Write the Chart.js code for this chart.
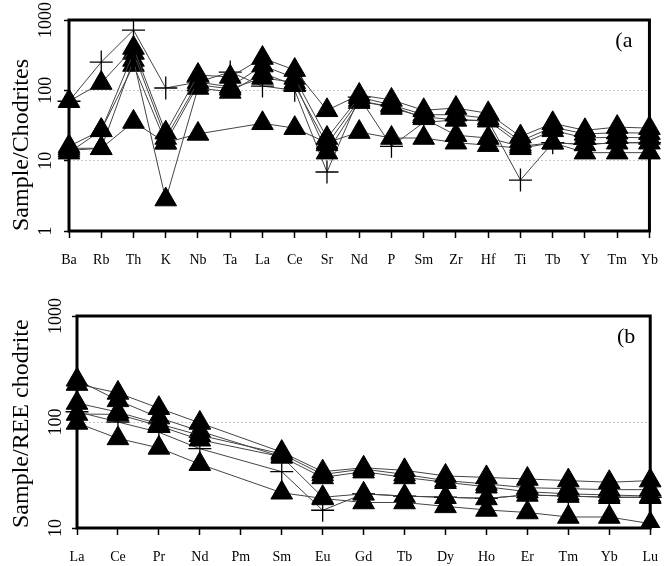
<!DOCTYPE html>
<html>
<head>
<meta charset="utf-8">
<script src="https://cdn.jsdelivr.net/npm/chart.js@4.4.1/dist/chart.umd.min.js"></script>
<style>
html, body { margin: 0; padding: 0; background: #fff; }
canvas { display: block; }
</style>
</head>
<body>
<canvas id="chartA" width="672" height="285"></canvas>
<canvas id="chartB" width="672" height="281"></canvas>
<script>
// (a) spider diagram, normalised to chondrite
var spiderLabels = ['Ba', 'Rb', 'Th', 'K', 'Nb', 'Ta', 'La', 'Ce', 'Sr', 'Nd', 'P', 'Sm', 'Zr', 'Hf', 'Ti', 'Tb', 'Y', 'Tm', 'Yb'];
var spider1 = [70, 127, 400, 25, 165, 155, 288, 194, 52, 86, 73, 52, 56, 47, 22, 34, 27, 30, 29];
var spider2 = [16, 27, 340, 21, 131, 112, 225, 150, 21, 80, 62, 45, 45, 40, 19, 30, 24, 25, 24.6];
var spider3 = [14, 15, 270, 2.8, 108, 95, 176, 118, 17, 73, 56, 42, 38, 37, 17, 27, 21, 21.6, 21];
var spider4 = [13, 27, 229, 18, 120, 105, 150, 130, 13, 68, 60, 40, 23, 21, 16, 18, 17, 18, 18];
var spider5 = [15, 15, 35.5, 18, 24, null, 34, 29, 18, 25.5, 21, 21, 18, 16.6, 15, 18, 13, 13, 13];
var spiderCross = [70, 252, 720, 108, 131, 182, 115, 100, 6.9, 80, 16, 35, 38, 37, 5.3, 18, 17, 18, 18];
var spiderTicks = [1, 10, 100, 1000];

// (b) REE pattern
var reeLabels = ['La', 'Ce', 'Pr', 'Nd', 'Pm', 'Sm', 'Eu', 'Gd', 'Tb', 'Dy', 'Ho', 'Er', 'Tm', 'Yb', 'Lu'];
var ree1 = [228, 188, 135, 98, null, 52, 34, 37, 35, 31, 30, 29, 28, 27, 28];
var ree2 = [151, 124, 96, 75, null, 50, 32, 36, 32, 28, 26, 24, 23.5, 23, 23];
var ree3 = [119, 118, 92, 68, null, 47, 30, 34, 30, 27, 24.5, 22, 21, 20.5, 20];
var ree4 = [98, 70, 57, 40, null, 21.5, 19, 17.4, 17.4, 16, 14.8, 14, 12.7, 12.7, 11];
var ree5 = [250, 160, 110, 82, null, 47, 19.5, 21, 20, 19.5, 19, 20.5, 20, 19.5, 19.5];
var reeCross = [125, 100, 80, 56, null, 34, 14.7, 21, 20, 19.5, 19, 20.5, 20, 19.5, 19.5];
var reeTicks = [10, 100, 1000];

var serif = "'Liberation Serif', 'Times New Roman', serif";

var framePlugin = {
    id: 'frame',
    afterDatasetsDraw: function(chart, args, opts) {
        var a = chart.chartArea;
        var ctx = chart.ctx;
        ctx.save();
        ctx.lineWidth = 3;
        ctx.strokeStyle = '#000';
        ctx.strokeRect(a.left, a.top, a.right - a.left, a.bottom - a.top);
        ctx.fillStyle = '#000';
        ctx.font = opts.size + 'px ' + serif;
        ctx.textAlign = 'right';
        ctx.textBaseline = 'top';
        ctx.fillText(opts.tag, a.right - opts.dx, a.top + opts.dy);
        ctx.restore();
    }
};

function triSet(data) {
    return {
        data: data,
        borderColor: '#444',
        borderWidth: 1,
        pointStyle: 'triangle',
        pointRadius: 12.5,
        pointBackgroundColor: '#000',
        pointBorderColor: '#000',
        pointBorderWidth: 1,
        spanGaps: true,
        tension: 0
    };
}

function crossSet(data) {
    return {
        data: data,
        borderColor: '#444',
        borderWidth: 1,
        pointStyle: 'cross',
        pointRadius: 11.5,
        pointBorderColor: '#000',
        pointBorderWidth: 1.3,
        spanGaps: true,
        tension: 0
    };
}

function makeChart(id, labels, sets, yMin, yMax, yTicks, yTitle, yWidth, yPad, xHeight, pad, tag) {
    return new Chart(document.getElementById(id), {
        type: 'line',
        data: { labels: labels, datasets: sets },
        options: {
            responsive: false,
            animation: false,
            events: [],
            layout: { padding: pad },
            plugins: {
                legend: { display: false },
                tooltip: { enabled: false },
                frame: tag
            },
            scales: {
                x: {
                    type: 'category',
                    offset: false,
                    grid: { drawOnChartArea: false, tickLength: 7, tickColor: '#000', tickWidth: 1.5 },
                    border: { display: false },
                    ticks: {
                        autoSkip: false,
                        maxRotation: 0,
                        padding: 14,
                        color: '#000',
                        font: { family: serif, size: 14 }
                    },
                    afterFit: function(s) { s.height = xHeight; }
                },
                y: {
                    type: 'logarithmic',
                    min: yMin,
                    max: yMax,
                    afterBuildTicks: function(s) {
                        s.ticks = yTicks.map(function(v) { return { value: v }; });
                    },
                    grid: {
                        tickLength: 5,
                        tickColor: '#000',
                        tickWidth: 1.5,
                        color: function(c) {
                            if (c.tick && c.tick.value > yMin && c.tick.value < yMax) return '#c8c8c8';
                            return 'rgba(0,0,0,0)';
                        }
                    },
                    border: { display: false, dash: [2, 2] },
                    ticks: {
                        minRotation: 90,
                        maxRotation: 90,
                        crossAlign: 'center',
                        padding: yPad,
                        color: '#000',
                        font: { family: serif, size: 18 },
                        callback: function(v) { return String(v); }
                    },
                    title: {
                        display: true,
                        text: yTitle,
                        align: 'start',
                        color: '#000',
                        padding: { top: 10, bottom: 0 },
                        font: { family: serif, size: 24, lineHeight: 1 }
                    },
                    afterFit: function(s) { s.width = yWidth; }
                }
            }
        },
        plugins: [framePlugin]
    });
}

makeChart('chartA', spiderLabels,
    [triSet(spider1), triSet(spider2), triSet(spider3), triSet(spider4), triSet(spider5), crossSet(spiderCross)],
    1, 1000, spiderTicks, 'Sample/Chodrites', 69, 0, 54,
    { left: 0, right: 20, top: 20, bottom: 0 },
    { tag: '(a', size: 22, dx: 17, dy: 10 });

makeChart('chartB', reeLabels,
    [triSet(ree1), triSet(ree2), triSet(ree3), triSet(ree4), triSet(ree5), crossSet(reeCross)],
    10, 1000, reeTicks, 'Sample/REE chodrite', 77, -2, 38,
    { left: 0, right: 12, top: 31, bottom: 0 },
    { tag: '(b', size: 22, dx: 15, dy: 10 });
</script>
</body>
</html>
